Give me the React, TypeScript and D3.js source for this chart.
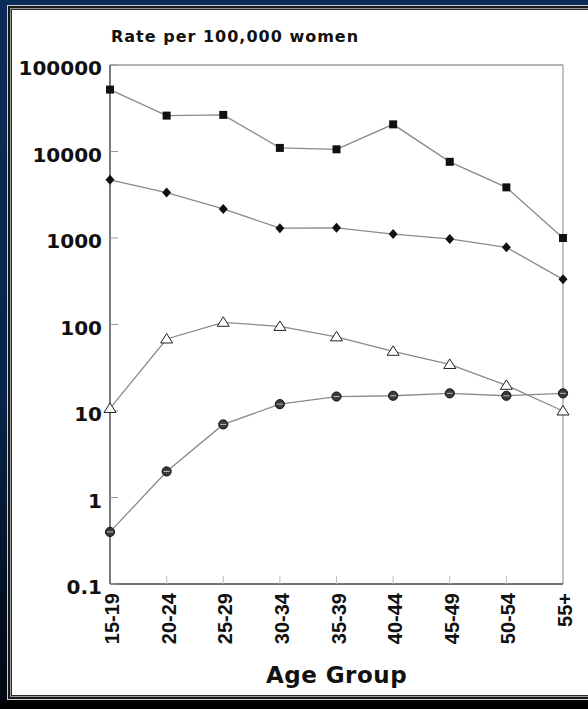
import React from "react";
import * as d3 from "d3";

const ageGroups = ["15-19", "20-24", "25-29", "30-34", "35-39", "40-44", "45-49", "50-54", "55+"];
const squareSeries = [52000, 26000, 26500, 11000, 10600, 20600, 7600, 3850, 1000];
const diamondSeries = [4700, 3350, 2170, 1300, 1310, 1110, 975, 780, 333];
const triangleSeries = [10.7, 68, 106, 95, 72, 49, 34.5, 19.8, 10];
const circleSeries = [0.4, 2, 7, 12, 14.7, 15, 16, 15, 16];
const yTicks = [0.1, 1, 10, 100, 1000, 10000, 100000];
const yTickLabels = ["0.1", "1", "10", "100", "1000", "10000", "100000"];
const titleText = "Rate per 100,000 women";
const xTitleText = "Age Group";

const W = 588;
const H = 709;
const plot = { left: 110, right: 563, top: 65, bottom: 584 };

export default function App() {
  const x = d3.scalePoint<string>().domain(ageGroups).range([plot.left, plot.right]).padding(0);
  const y = d3.scaleLog().domain([0.1, 100000]).range([plot.bottom, plot.top]);
  const line = d3
    .line<number>()
    .x((_, i) => x(ageGroups[i]) as number)
    .y((d) => y(d));

  const lineColor = "#8a8a8a";
  const series = [squareSeries, diamondSeries, triangleSeries, circleSeries];

  return (
    <svg
      width={W}
      height={H}
      viewBox={`0 0 ${W} ${H}`}
      style={{ position: "absolute", left: 0, top: 0, display: "block" }}
    >
      <defs>
        <linearGradient id="bg" x1="0" y1="0" x2="0" y2="1">
          <stop offset="0" stopColor="#0b2c58" />
          <stop offset="0.55" stopColor="#08254b" />
          <stop offset="1" stopColor="#010610" />
        </linearGradient>
      </defs>
      <rect x={0} y={0} width={W} height={H} fill="url(#bg)" />
      <rect x={0} y={700} width={W} height={9} fill="#000" />
      {/* white panel with double border */}
      <rect x={7} y={5} width={W} height={695} fill="#cfcfcf" />
      <rect x={8} y={6} width={W} height={693} fill="#1a1a1a" />
      <rect x={10} y={8} width={W} height={689} fill="#9a9a9a" />
      <rect x={11} y={9} width={W} height={687} fill="#2a2a2a" />
      <rect x={12} y={10} width={W} height={685} fill="#ffffff" />

      {/* plot frame */}
      <line x1={plot.left} x2={plot.right} y1={plot.top} y2={plot.top} stroke="#6a6a6a" strokeWidth={1.2} />
      <line x1={plot.right} x2={plot.right} y1={plot.top} y2={plot.bottom} stroke="#9a9a9a" strokeWidth={1.2} />
      <line x1={plot.left} x2={plot.left} y1={plot.top} y2={plot.bottom} stroke="#444" strokeWidth={1.4} />
      <line x1={plot.left} x2={plot.right} y1={plot.bottom} y2={plot.bottom} stroke="#444" strokeWidth={1.4} />

      {/* y ticks */}
      {yTicks.map((t, i) => (
        <g key={"yt" + i}>
          <line x1={plot.left} x2={plot.left + 8} y1={y(t)} y2={y(t)} stroke="#999" strokeWidth={1} />
          <text
            x={102}
            y={y(t) + 10}
            textAnchor="end"
            fontFamily="DejaVu Sans"
            fontWeight="bold"
            fontSize={20}
            fill="#111"
          >
            {yTickLabels[i]}
          </text>
        </g>
      ))}

      {/* x ticks */}
      {ageGroups.map((g, i) => (
        <g key={"xt" + i}>
          {i > 0 && i < ageGroups.length - 1 && (
            <line x1={x(g)} x2={x(g)} y1={plot.bottom} y2={plot.bottom - 8} stroke="#bbb" strokeWidth={1} />
          )}
          <text
            transform={`translate(${(x(g) as number) + 9},593) rotate(-90)`}
            textAnchor="end"
            fontFamily="Liberation Sans"
            fontWeight="bold"
            fontSize={20}
            fill="#111"
          >
            {g}
          </text>
        </g>
      ))}

      {/* lines */}
      {series.map((s, i) => (
        <path key={"l" + i} d={line(s) || ""} fill="none" stroke={lineColor} strokeWidth={1.3} />
      ))}

      {/* squares */}
      {squareSeries.map((v, i) => (
        <rect
          key={"sq" + i}
          x={(x(ageGroups[i]) as number) - 4}
          y={y(v) - 4}
          width={8}
          height={8}
          fill="#111"
        />
      ))}
      {/* diamonds */}
      {diamondSeries.map((v, i) => {
        const cx = x(ageGroups[i]) as number;
        const cy = y(v);
        return (
          <path
            key={"dm" + i}
            d={`M${cx},${cy - 5}L${cx + 4.5},${cy}L${cx},${cy + 5}L${cx - 4.5},${cy}Z`}
            fill="#111"
          />
        );
      })}
      {/* triangles */}
      {triangleSeries.map((v, i) => {
        const cx = x(ageGroups[i]) as number;
        const cy = y(v);
        return (
          <path
            key={"tr" + i}
            d={`M${cx},${cy - 5.5}L${cx + 6},${cy + 4}L${cx - 6},${cy + 4}Z`}
            fill="#fff"
            stroke="#222"
            strokeWidth={1}
          />
        );
      })}
      {/* circles */}
      {circleSeries.map((v, i) => {
        const cx = x(ageGroups[i]) as number;
        const cy = y(v);
        return (
          <g key={"ci" + i}>
            <circle cx={cx} cy={cy} r={4.6} fill="#3a3a3a" stroke="#111" strokeWidth={1} />
            <line x1={cx - 3} x2={cx + 3} y1={cy} y2={cy} stroke="#bbb" strokeWidth={1} />
          </g>
        );
      })}

      {/* titles */}
      <text x={111} y={42} fontFamily="DejaVu Sans" fontWeight="bold" fontSize={16} letterSpacing={1} fill="#111">
        {titleText}
      </text>
      <text
        x={(plot.left + plot.right) / 2}
        y={683}
        textAnchor="middle"
        fontFamily="DejaVu Sans"
        fontWeight="bold"
        fontSize={23}
        letterSpacing={0.5}
        fill="#111"
      >
        {xTitleText}
      </text>
    </svg>
  );
}
